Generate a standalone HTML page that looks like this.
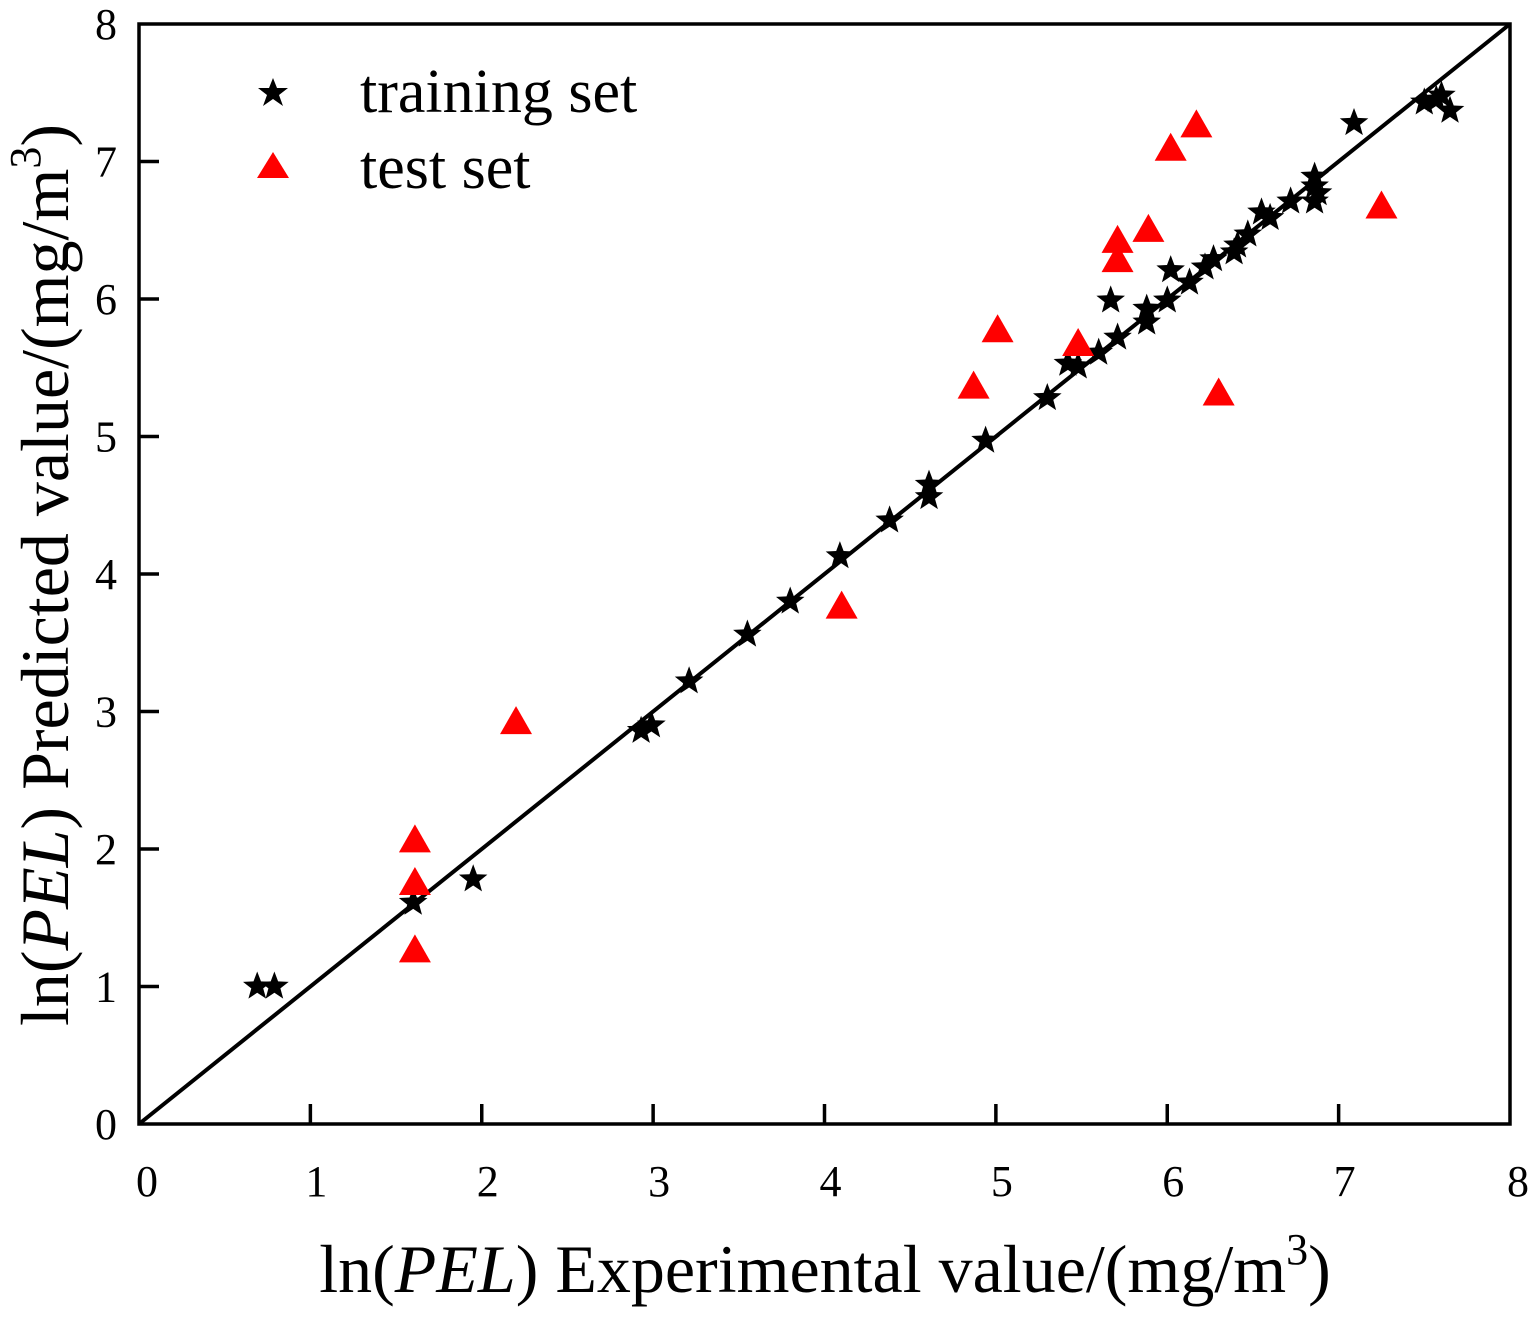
<!DOCTYPE html>
<html><head><meta charset="utf-8"><style>
body{margin:0;background:#fff}
svg text{font-family:"Liberation Serif",serif;fill:#000}
</style></head><body>
<svg width="1532" height="1314" viewBox="0 0 1532 1314" xmlns="http://www.w3.org/2000/svg">
<g id="grid"></g>
<g id="marks"></g>
<rect x="139" y="24" width="1371" height="1100" fill="none" stroke="#000" stroke-width="3.5"/>
<g id="ticks"></g>
<text x="825" y="1292" font-size="68" text-anchor="middle">ln(<tspan font-style="italic">PEL</tspan>) Experimental value/(mg/m<tspan font-size="44" dy="-28">3</tspan><tspan dy="28">)</tspan></text>
<text transform="translate(68,575) rotate(-90)" font-size="68" text-anchor="middle">ln(<tspan font-style="italic">PEL</tspan>) Predicted value/(mg/m<tspan font-size="44" dy="-28">3</tspan><tspan dy="28">)</tspan></text>
<g>
<polygon points="273,78 277,88 288,88 279,95 283,106 273,99 263,106 267,95 258,88 269,88" fill="#000"/>
<text x="360" y="112" font-size="62">training set</text>
<polygon points="273,152 289,178 257,178" fill="#f00"/>
<text x="360" y="188" font-size="62">test set</text>
</g>
</svg>
<script>
const xTicks=[0,1,2,3,4,5,6,7,8];
const yTicks=[0,1,2,3,4,5,6,7,8];
const trainX=[0.69,0.79,1.60,1.95,2.93,2.99,3.21,3.55,3.80,4.09,4.38,4.61,4.61,4.94,5.30,5.42,5.48,5.60,5.71,5.67,5.88,5.88,6.00,6.02,6.13,6.22,6.27,6.39,6.41,6.47,6.55,6.60,6.72,6.86,6.86,6.86,6.88,7.09,7.50,7.60,7.65,7.57];
const trainY=[1.00,1.00,1.61,1.78,2.86,2.90,3.22,3.56,3.80,4.13,4.39,4.56,4.65,4.97,5.28,5.53,5.51,5.61,5.72,5.99,5.83,5.93,5.99,6.21,6.12,6.23,6.29,6.34,6.39,6.47,6.63,6.59,6.71,6.82,6.89,6.71,6.77,7.28,7.43,7.48,7.37,7.45];
const testX=[1.61,1.61,1.61,2.20,4.10,4.87,5.01,5.48,5.71,5.71,5.89,6.02,6.17,6.30,7.25];
const testY=[1.27,1.76,2.07,2.93,3.77,5.37,5.78,5.68,6.29,6.43,6.51,7.10,7.27,5.32,6.68];
const X0=139,X1=1510,Y0=1124,Y1=24;
const sx=v=>X0+(X1-X0)*v/8, sy=v=>Y0-(Y0-Y1)*v/8;
const NS="http://www.w3.org/2000/svg";
const marks=document.getElementById('marks'), ticks=document.getElementById('ticks');
function mk(t,a,p){const e=document.createElementNS(NS,t);for(const k in a)e.setAttribute(k,a[k]);p.appendChild(e);return e;}
const ln=mk('line',{x1:sx(0),y1:sy(0),x2:sx(8),y2:sy(8),stroke:'#000','stroke-width':4},marks);


function star(cx,cy,R){const r=R*0.42;let p=[];for(let i=0;i<10;i++){const a=-Math.PI/2+i*Math.PI/5;const rr=i%2?r:R;p.push((cx+rr*Math.cos(a)).toFixed(1)+','+(cy+rr*Math.sin(a)).toFixed(1));}return p.join(' ');}
trainX.forEach((x,i)=>{const e=mk('polygon',{points:star(sx(x),sy(trainY[i]),15),fill:'#000'},marks);

});
testX.forEach((x,i)=>{const cx=sx(x),cy=sy(testY[i]);const e=mk('polygon',{points:`${cx},${cy-15} ${cx+16},${cy+13} ${cx-16},${cy+13}`,fill:'#f00'},marks);

});
xTicks.forEach(v=>{const x=sx(v);
if(v>0&&v<8){const t=mk('line',{x1:x,y1:Y0,x2:x,y2:Y0-20,stroke:'#000','stroke-width':3.5},ticks);

}
const l=mk('text',{x:x+(v==0?8:v==8?8:6),y:1196,'font-size':44,'text-anchor':'middle'},ticks);l.textContent=v;

});
yTicks.forEach(v=>{const y=sy(v);
if(v>0&&v<8){const t=mk('line',{x1:X0,y1:y,x2:X0+20,y2:y,stroke:'#000','stroke-width':3.5},ticks);

}
const l=mk('text',{x:117,y:y+15,'font-size':44,'text-anchor':'end'},ticks);l.textContent=v;

});
</script>
</body></html>
